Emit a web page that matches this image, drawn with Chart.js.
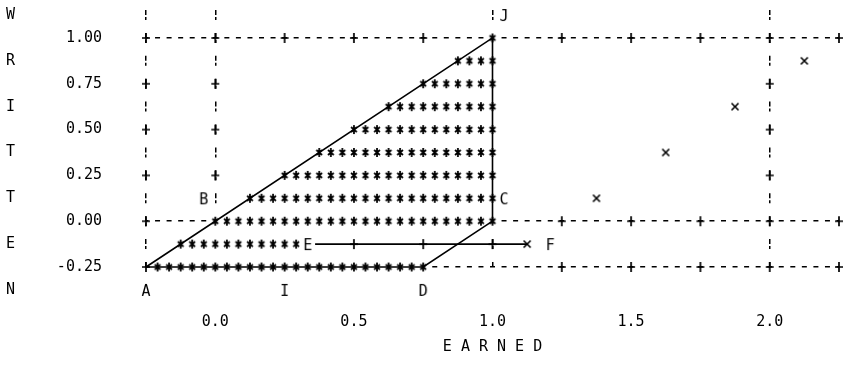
<!DOCTYPE html>
<html><head><meta charset="utf-8">
<script src="https://cdn.jsdelivr.net/npm/chart.js@4.4.1/dist/chart.umd.min.js"></script>
<style>html,body{margin:0;padding:0;background:#fff;}</style>
</head><body>
<canvas id="c" width="847" height="369"></canvas>
<script>
// ---------------- data ----------------
const xTickValues = [-0.25, 0, 0.5, 1.0, 1.5, 2.0];
const xGridValues = [-0.25, 0, 1.0, 2.0];
const yTickValues = [-0.25, 0, 0.25, 0.5, 0.75, 1.0];
const yGridValues = [-0.25, 0, 1.0];
const yTitleRows = [1.125, 0.875, 0.625, 0.375, 0.125, -0.125, -0.375];
const yTitleLetters = ['W', 'R', 'I', 'T', 'T', 'E', 'N'];
const xTitle = 'E A R N E D';

// outline A -> J -> C -> D -> A
const regionX = [-0.25, 1.0, 1.0, 0.75, -0.25];
const regionY = [-0.25, 1.0, 0.0, -0.25, -0.25];

// asterisk shading, one run per printed row (first and last asterisk)
const shadeRowY = [1.0, 0.875, 0.75, 0.625, 0.5, 0.375, 0.25, 0.125, 0.0, -0.125, -0.25];
const shadeFrom = [1.0, 0.875, 0.75, 0.625, 0.5, 0.375, 0.25, 0.125, 0.0, -0.125, -0.2083];
const shadeTo   = [1.0, 1.0, 1.0, 1.0, 1.0, 1.0, 1.0, 1.0, 1.0, 0.2917, 0.75];

// line E -> F
const lineEFx = [0.36, 0.5, 0.75, 1.0, 1.125];
const lineEFy = [-0.125, -0.125, -0.125, -0.125, -0.125];
const lineEFmarks = ['', '+', '+', '+', 'x'];

// isolated x points
const pointsX = [1.375, 1.625, 1.875, 2.125];
const pointsY = [0.125, 0.375, 0.625, 0.875];

// letter labels
const labelText = ['A', 'I', 'D', 'B', 'C', 'J', 'E', 'F'];
const labelX = [-0.25, 0.25, 0.75, -0.0417, 1.0417, 1.0417, 0.3333, 1.2083];
const labelY = [-0.375, -0.375, -0.375, 0.125, 0.125, 1.125, -0.125, -0.125];

// '+' marks along the dashed grid
const crossAlongX = [-0.25, 0, 0.25, 0.5, 0.75, 1.25, 1.5, 1.75, 2.0, 2.25];
const crossVertX = [-0.25, 0, 2.0];
const crossAlongY = [0.25, 0.5, 0.75];

// ---------------- rendering ----------------
const FONT = '"DejaVu Sans Mono", "Liberation Mono", monospace';
Chart.defaults.font.family = FONT;
Chart.defaults.font.size = 15;
Chart.defaults.color = '#000';
const HALF_CHAR = 1 / 48;

function glyph(draw) {
  const c = document.createElement('canvas');
  c.width = 16; c.height = 20;
  const g = c.getContext('2d');
  g.strokeStyle = '#000'; g.fillStyle = '#000'; g.lineWidth = 1.7;
  draw(g);
  return c;
}
const plusGlyph = glyph(g => { g.beginPath(); g.moveTo(4, 10); g.lineTo(12, 10); g.moveTo(8, 5); g.lineTo(8, 15); g.stroke(); });
const xGlyph = glyph(g => { g.lineWidth = 1.6; g.beginPath(); g.moveTo(4.5, 6.5); g.lineTo(11.5, 13.5); g.moveTo(11.5, 6.5); g.lineTo(4.5, 13.5); g.stroke(); });
const letterGlyph = ch => glyph(g => { g.font = '15px ' + FONT; g.textAlign = 'center'; g.textBaseline = 'alphabetic'; g.fillText(ch, 8, 15.5); });
const labelGlyphs = labelText.map(letterGlyph);

let patCache = null;
function starPattern(chart) {
  const xs = chart.scales.x, ys = chart.scales.y;
  if (!xs || !ys) return '#fff';
  const x0 = xs.getPixelForValue(0), y0 = ys.getPixelForValue(0);
  const cw = Math.abs(xs.getPixelForValue(1 / 24) - x0);
  const rh = Math.abs(y0 - ys.getPixelForValue(0.125));
  const key = [cw, rh, x0, y0].join();
  if (patCache && patCache.key === key) return patCache.p;
  const tw = 12, th = 23, cx = 6, cy = 11.5;
  const c = document.createElement('canvas'); c.width = tw; c.height = th;
  const g = c.getContext('2d');
  g.fillStyle = '#fff'; g.fillRect(0, 0, tw, th);
  g.strokeStyle = '#000'; g.lineWidth = 1.8;
  g.beginPath();
  g.moveTo(cx, cy - 4.5); g.lineTo(cx, cy + 4.5);
  g.moveTo(cx - 3, cy - 2.5); g.lineTo(cx + 3, cy + 2.5);
  g.moveTo(cx + 3, cy - 2.5); g.lineTo(cx - 3, cy + 2.5);
  g.stroke();
  const p = chart.ctx.createPattern(c, 'repeat');
  const sx = cw / tw, sy = rh / th;
  p.setTransform(new DOMMatrix([sx, 0, 0, sy, x0 - cx * sx, y0 - cy * sy]));
  patCache = { key, p };
  return p;
}
function rowPx(chart) { const ys = chart.scales.y; return Math.abs(ys.getPixelForValue(0) - ys.getPixelForValue(0.125)); }
function charPx(chart) { const xs = chart.scales.x; return Math.abs(xs.getPixelForValue(1 / 24) - xs.getPixelForValue(0)); }
const zeroPad = s => { s.paddingLeft = 0; s.paddingRight = 0; s.paddingTop = 0; s.paddingBottom = 0; };

const crossData = yGridValues.flatMap(y => crossAlongX.map(x => ({ x, y })))
  .concat(crossVertX.flatMap(x => crossAlongY.map(y => ({ x, y }))));

new Chart(document.getElementById('c'), {
  type: 'scatter',
  data: {
    datasets: [
      { type: 'line', label: 'region', data: regionX.map((x, i) => ({ x, y: regionY[i] })),
        borderColor: '#000', borderWidth: 1.6, pointRadius: 0, fill: false, tension: 0, order: 3, clip: false },
      { type: 'line', label: 'EF', data: lineEFx.map((x, i) => ({ x, y: lineEFy[i] })),
        borderColor: '#000', borderWidth: 1.6, fill: false, tension: 0,
        pointStyle: c => lineEFmarks[c.dataIndex] === 'x' ? xGlyph : plusGlyph,
        pointRadius: c => lineEFmarks[c.dataIndex] ? 12 : 0, pointBorderWidth: 0, order: 2, clip: false },
      { type: 'scatter', label: 'points', data: pointsX.map((x, i) => ({ x, y: pointsY[i] })),
        pointStyle: xGlyph, pointRadius: 12, pointBorderWidth: 0, order: 1, clip: false },
      { type: 'scatter', label: 'labels', data: labelX.map((x, i) => ({ x, y: labelY[i] })),
        pointStyle: c => labelGlyphs[c.dataIndex], pointRadius: 30, pointBorderWidth: 0, order: 0, clip: false },
      { type: 'scatter', label: 'grid+', data: crossData,
        pointStyle: plusGlyph, pointRadius: 12, pointBorderWidth: 0, order: 6, clip: false },
      { type: 'bar', label: 'shade', indexAxis: 'y',
        data: shadeRowY.map((y, i) => ({ y, x: [shadeFrom[i] - HALF_CHAR, shadeTo[i] + HALF_CHAR] })),
        backgroundColor: c => starPattern(c.chart), borderWidth: 0, barThickness: 23, grouped: false,
        order: 5, clip: false }
    ]
  },
  options: {
    responsive: false, animation: false, events: [],
    layout: { autoPadding: false, padding: { left: 6, right: 8, top: 10, bottom: 0 } },
    plugins: { legend: { display: false }, tooltip: { enabled: false } },
    scales: {
      x: {
        type: 'linear', position: 'bottom', min: -0.25, max: 2.25, bounds: 'data', offset: false,
        afterBuildTicks: s => { s.ticks = xTickValues.map(v => ({ value: v })); },
        afterFit: s => { s.height = 102; zeroPad(s); },
        ticks: { autoSkip: false, maxRotation: 0, padding: 46, color: '#000',
                 callback: v => v < 0 ? '' : Number(v).toFixed(1) },
        grid: { drawTicks: false, lineWidth: 1.5, offset: false,
                color: c => (c.tick && xGridValues.includes(c.tick.value)) ? '#000' : 'rgba(0,0,0,0)' },
        border: { display: false, dash: c => { const h = rowPx(c.chart); return [5, 2, 3, Math.max(h - 10, 1)]; }, dashOffset: 0 },
        title: { display: true, text: xTitle, color: '#000', padding: { top: 0, bottom: 13 } }
      },
      y: {
        type: 'linear', position: 'left', min: -0.25, max: 1.1525, bounds: 'data', offset: false, weight: 0,
        afterBuildTicks: s => { s.ticks = yTickValues.map(v => ({ value: v })); },
        afterFit: s => { s.width = 100; zeroPad(s); },
        ticks: { autoSkip: false, padding: 44, color: '#000', callback: v => Number(v).toFixed(2) },
        grid: { drawTicks: false, lineWidth: 1.5, offset: false,
                color: c => (c.tick && yGridValues.includes(c.tick.value)) ? '#000' : 'rgba(0,0,0,0)' },
        border: { display: false, dash: c => { const w = charPx(c.chart); return [5, Math.max(w - 5, 1)]; }, dashOffset: 2.5 }
      },
      yT: {
        type: 'linear', position: 'left', min: -0.25, max: 1.1525, bounds: 'data', offset: false, weight: 1,
        afterBuildTicks: s => { s.ticks = yTitleRows.map(v => ({ value: v })); },
        afterFit: s => { s.width = 40; zeroPad(s); },
        ticks: { autoSkip: false, padding: 0, crossAlign: 'far', color: '#000', callback: (v, i) => yTitleLetters[i] },
        grid: { display: false, drawTicks: false },
        border: { display: false }
      }
    }
  }
});
</script>
</body></html>
